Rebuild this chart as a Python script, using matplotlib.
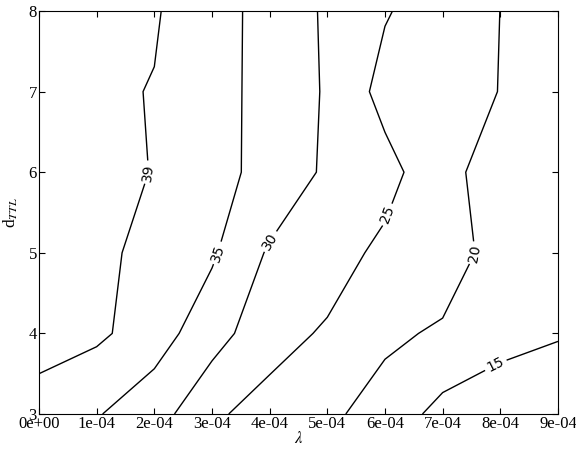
import numpy as np
import matplotlib

matplotlib.use("Agg")

import matplotlib.pyplot as plt
from matplotlib.ticker import FuncFormatter

plt.rcParams["font.family"] = ["Liberation Serif", "DejaVu Serif"]
plt.rcParams["mathtext.fontset"] = "stix"

# grid of the sweep
lam = [0e-4, 1e-4, 2e-4, 3e-4, 4e-4, 5e-4, 6e-4, 7e-4, 8e-4, 9e-4]
d_ttl = [3, 4, 5, 6, 7, 8]

row_d3 = [37.0, 35.3, 32.4, 25.54, 23.68, 21.0, 17.88, 13.45, 12.5, 12.0]
row_d4 = [41.0, 39.73, 37.03, 32.31, 26.39, 24.54, 21.0, 19.28, 16.41, 15.33]
row_d5 = [41.5, 40.0, 37.73, 35.63, 29.38, 26.84, 24.01, 23.07, 17.59, 16.5]
row_d6 = [42.0, 40.8, 38.8, 36.2, 33.84, 29.1, 26.6, 21.75, 17.38, 15.8]
row_d7 = [41.0, 39.7, 38.83, 36.08, 34.0, 29.4, 23.37, 22.5, 19.87, 16.0]
row_d8 = [41.0, 40.0, 39.38, 36.2, 33.94, 29.19, 25.38, 22.46, 19.98, 16.5]

levels = [15, 20, 25, 30, 35, 39]
label_spots = [
    (1.89e-4, 6.0),
    (3.09e-4, 5.0),
    (3.97e-4, 5.16),
    (5.98e-4, 5.49),
    (7.6e-4, 4.98),
    (7.89e-4, 3.65),
]


def sci_fmt(v, pos):
    return f"{v:.0e}"


fig = plt.figure(figsize=(5.76, 4.51), dpi=100)
ax = fig.add_axes([0.0677, 0.082, 0.901, 0.8936])

Z = np.array([row_d3, row_d4, row_d5, row_d6, row_d7, row_d8])
X, Y = np.meshgrid(lam, d_ttl)

cs = ax.contour(X, Y, Z, levels=levels, colors="black", linewidths=1.0)
labels = ax.clabel(cs, inline=True, fontsize=10, fmt="%d", manual=label_spots)
for t in labels:
    t.set_family("DejaVu Sans")

ax.set_xlim(0, 9e-4)
ax.set_ylim(3, 8)
ax.set_xticks(lam)
ax.set_yticks(d_ttl)
ax.xaxis.set_major_formatter(FuncFormatter(sci_fmt))
ax.tick_params(direction="in", top=True, right=True, length=4,
               labelsize=12, pad=1.5)
ax.set_xlabel(r"$\lambda$", fontsize=12, labelpad=-1)
ax.set_ylabel(r"d$_{TTL}$", fontsize=12.5, labelpad=6)

fig.savefig("out.png", dpi=100)
